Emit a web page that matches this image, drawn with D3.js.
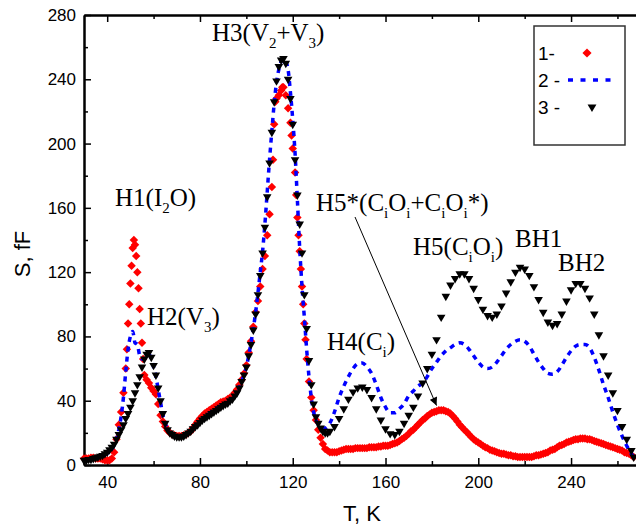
<!DOCTYPE html>
<html>
<head>
<meta charset="utf-8">
<script src="https://cdn.jsdelivr.net/npm/d3@7"></script>
<style>
body { margin: 0; background: #fff; }
</style>
</head>
<body>
<script>
//Data: [T in K, S in fF]
//Series 1 - red diamonds
var series1 = [[30,4],[31,4],[32,4],[33,4.5],[34,4.5],[35,4],[36,4],[37,4],[38,3.5],[39,3],[40,3],[41,3],[42,4],[43,8],[44,16],[45,25],[46,33],[47,45],[48,60],[48.5,72],[49,88],[49.5,100],[50,113],[50.5,124],[51,135],[51.5,140],[52,137],[52.5,130],[53,120],[53.5,110],[54,97],[54.5,88],[55,76],[55.5,66],[56,56],[57,53],[58,51],[59,48],[60,46],[61,44],[62,38],[63,31],[64,27],[65,24],[66,21.5],[67,20],[68,19],[69,18.5],[70,18],[71,18],[72,18],[73,18.5],[74,19],[75,20],[76,21],[77,23],[78,25],[79,27],[80,29],[81,30.5],[82,32],[83,33],[84,34],[85,35],[86,36],[87,37],[88,38],[89,39],[90,39.5],[91,40],[92,41],[93,42],[94,43],[95,45],[96,47],[97,50],[98,53],[99,57],[100,62],[101,70],[102,77],[103,86],[104,95],[105,102],[106,111],[107,122],[108,130],[109,143],[110,156],[111,173],[111.5,190],[112,212],[112.5,226],[113,228],[114,230],[115,233],[115.5,235],[116,235],[117,230],[118,222],[119,213],[119.5,205],[120,197],[121,182],[121.5,168],[122,154],[122.5,143],[123,133],[123.5,122],[124,111],[124.5,100],[125,88],[125.5,78],[126,66],[127,52],[128,42],[129,34],[130,28],[131,22],[132,17],[133,13],[134,10],[135,9],[136,8],[137,8],[138,8],[139,8],[140,8.5],[141,9],[142,9.5],[143,10],[144,10],[145,10],[146,10],[147,10.5],[148,10.5],[149,10.5],[150,10.5],[151,10.5],[152,10.5],[153,11],[154,11],[155,11],[156,11],[157,11.5],[158,11.5],[159,12],[160,12],[161,12],[162,12.5],[163,13],[164,13.5],[165,14],[166,15],[167,16],[168,17],[169,18],[170,19.5],[171,21],[172,22],[173,23.5],[174,25],[175,26.5],[176,28],[177,29],[178,30.5],[179,31.5],[180,32.5],[181,33],[182,33.5],[183,34],[184,34],[185,34],[186,33.5],[187,33],[188,32],[189,30.5],[190,29],[191,27],[192,25],[193,23.5],[194,22],[195,20.5],[196,19],[197,17.5],[198,16],[199,15],[200,14],[201,13],[202,12],[203,11],[204,10.5],[205,9.5],[206,9],[207,8.5],[208,8],[209,7.5],[210,7],[211,7],[212,6.5],[213,6],[214,6],[215,5.5],[216,5.5],[217,5],[218,5],[219,5],[220,5],[221,5],[222,5],[223,5],[224,5.5],[225,6],[226,6],[227,6.5],[228,7],[229,7.5],[230,8],[231,9],[232,9.5],[233,10],[234,11],[235,12],[236,12.5],[237,13],[238,14],[239,14.5],[240,15],[241,15.5],[242,16],[243,16],[244,16.5],[245,16.5],[246,16.5],[247,16],[248,16],[249,15.5],[250,15],[251,14.5],[252,14],[253,13.5],[254,13],[255,12.5],[256,12],[257,11.5],[258,11],[259,10.5],[260,10],[261,9.5],[262,9],[263,8],[264,7.5],[265,7],[266,6],[267,5]];

//Series 2 - blue dotted line
var series2 = [[30,3],[34,4],[38,6],[40,7],[42,10],[44,16],[45,22],[46,30],[47,42],[48,58],[49,72],[50,80],[51,83],[52,76],[53,75],[54,68],[55,66],[56,66],[57,68],[58,69],[59,66],[60,61],[61,55],[62,47],[63,39],[64,31],[65,26],[66,22],[68,19],[70,17.5],[72,17.5],[74,19],[76,21],[78,24],[80,27],[84,32],[88,36],[92,39],[94,41],[96,45],[98,52],[100,61],[102,76],[104,95],[106,120],[107,133],[108,150],[109,170],[110,190],[111,208],[112,225],[113,238],[114,246],[115,251],[116,253],[117,251],[118,246],[119,232],[120,215],[121,194],[122,165],[123,135],[124,111],[125,92],[126,72],[127,55],[128,42],[129,33],[130,28],[132,24],[134,23],[136,26],[138,33],[140,42],[142,49],[144,55],[146,60],[148,63],[150,63.5],[152,61],[154,57],[156,50],[158,42],[160,36],[162,32.5],[164,32.5],[166,35],[168,38],[170,43],[172,46],[174,49],[176,51],[178,55],[180,60],[182,64],[184,68],[186,71],[188,73],[190,75],[192,76],[194,75],[196,72],[198,68],[200,64],[202,61],[204,60],[206,61],[208,64],[210,68],[212,72],[214,75],[216,77],[218,78],[220,77],[222,74],[224,69],[226,64],[228,60],[230,57],[232,56.5],[234,58],[236,62],[238,67],[240,71],[242,74],[244,75],[246,75],[248,73],[250,67],[252,59],[254,50],[256,42],[258,33],[260,25],[262,18],[264,12],[266,7],[267,5]];

//Series 3 - black triangles
var series3 = [[30,3],[31,3],[32,3.5],[33,3.5],[34,4],[35,4.5],[36,5],[37,5.5],[38,6],[39,7],[40,8],[41,9.5],[42,11],[43,13],[44,16],[45,19],[46,22],[47,25],[48,29],[49,32],[50,36],[51,40],[52,45],[53,50],[54,55],[55,61],[56,66],[57,69],[58,70],[59,67],[60,62],[61,56],[62,48],[63,40],[64,32],[65,26],[66,22],[67,20],[68,19],[69,18],[70,17.5],[71,17.5],[72,17.5],[73,18],[74,19],[75,20],[76,21],[77,22.5],[78,24],[79,25],[80,26.5],[81,28],[82,29],[83,30],[84,31],[85,32],[86,33],[87,34],[88,35],[89,36],[90,37],[91,38],[92,38.5],[93,40],[94,41],[95,43],[96,45],[97,48],[98,52],[99,56],[100,61],[101,68],[102,75],[103,84],[104,94],[105,106],[106,118],[107,132],[108,148],[109,167],[110,188],[111,207],[112,226],[113,239],[114,248],[115,252],[116,253],[117,250],[118,240],[119,228],[120,212],[121,190],[122,168],[123,150],[124,132],[125,106],[126,85],[127,65],[128,50],[129,38],[130,30],[131,26],[132,23],[133,21],[134,20],[135,20],[136,21],[138,24],[140,29],[142,35],[144,41],[146,45.5],[148,48],[150,48.5],[152,47],[154,42],[156,35],[158,28],[160,22.5],[162,19.5],[164,19],[166,21],[168,26],[170,31],[172,36],[174,43],[176,51],[178,60],[180,69],[182,78],[184,92],[186,105],[188,112],[190,116],[192,119],[194,119],[196,116],[198,110],[200,103],[202,97],[204,93],[206,92],[208,94],[210,99],[212,107],[214,114],[216,120],[218,123],[220,122],[222,118],[224,111],[226,103],[228,95],[230,89],[232,87],[234,88],[236,94],[238,102],[240,109],[242,113],[244,113],[246,110],[248,104],[250,94],[252,81],[254,68],[256,56],[258,45],[260,34],[262,24],[264,16],[266,9],[267,5]];

//Tick values
var xMajor = [40, 80, 120, 160, 200, 240];
var xMinor = [60, 100, 140, 180, 220, 260];
var yMajor = [0, 40, 80, 120, 160, 200, 240, 280];
var yMinor = [20, 60, 100, 140, 180, 220, 260];

var legendLabels = ['1-', '2 -', '3 -'];

//Peak labels: parts of [text, subscript?]
var peakLabels = [
  {x: 115, y: 206, parts: [['H1(I', 0], ['2', 1], ['O)', 0]]},
  {x: 147, y: 325, parts: [['H2(V', 0], ['3', 1], [')', 0]]},
  {x: 212, y: 41, parts: [['H3(V', 0], ['2', 1], ['+V', 0], ['3', 1], [')', 0]]},
  {x: 327, y: 350, parts: [['H4(C', 0], ['i', 1], [')', 0]]},
  {x: 316, y: 211, parts: [['H5*(C', 0], ['i', 1], ['O', 0], ['i', 1], ['+C', 0], ['i', 1], ['O', 0], ['i', 1], ['*)', 0]]},
  {x: 413, y: 255, parts: [['H5(C', 0], ['i', 1], ['O', 0], ['i', 1], [')', 0]]},
  {x: 515, y: 247, parts: [['BH1', 0]]},
  {x: 558, y: 271, parts: [['BH2', 0]]}
];

var W = 636, H = 529;
var sans = 'Arial, "Liberation Sans", sans-serif';
var serif = '"Times New Roman", "Liberation Serif", serif';

var x = d3.scaleLinear().domain([30, 268]).range([84, 636]);
var y = d3.scaleLinear().domain([0, 280]).range([465, 15]);

var svg = d3.select('body')
  .append('svg')
  .attr('width', W)
  .attr('height', H);

//Axes, ticks point inside
function styleAxis(g) {
  g.select('.domain').attr('stroke', '#000').attr('stroke-width', 2);
  g.selectAll('.tick line').attr('stroke', '#000').attr('stroke-width', 1.5);
  g.selectAll('.tick text')
    .attr('font-family', sans)
    .attr('font-size', '17px')
    .attr('fill', '#000');
}

svg.append('g')
  .attr('transform', 'translate(0,465)')
  .call(d3.axisBottom(x).tickValues(xMinor).tickSizeInner(-4).tickSizeOuter(0).tickFormat(''))
  .call(styleAxis);
svg.append('g')
  .attr('transform', 'translate(0,465)')
  .call(d3.axisBottom(x).tickValues(xMajor).tickSizeInner(-7).tickSizeOuter(0).tickPadding(11))
  .call(styleAxis);

svg.append('g')
  .attr('transform', 'translate(0,15)')
  .call(d3.axisTop(x).tickValues(xMinor).tickSizeInner(-4).tickSizeOuter(0).tickFormat(''))
  .call(styleAxis);
svg.append('g')
  .attr('transform', 'translate(0,15)')
  .call(d3.axisTop(x).tickValues(xMajor).tickSizeInner(-7).tickSizeOuter(0).tickFormat(''))
  .call(styleAxis);

svg.append('g')
  .attr('transform', 'translate(84,0)')
  .call(d3.axisLeft(y).tickValues(yMinor).tickSizeInner(-4).tickSizeOuter(0).tickFormat(''))
  .call(styleAxis);
svg.append('g')
  .attr('transform', 'translate(84,0)')
  .call(d3.axisLeft(y).tickValues(yMajor).tickSizeInner(-7).tickSizeOuter(0).tickPadding(8))
  .call(styleAxis);

//Axis titles
svg.append('text')
  .attr('transform', 'translate(30,254) rotate(-90)')
  .attr('text-anchor', 'middle')
  .attr('font-family', sans)
  .attr('font-size', '22px')
  .text('S, fF');

svg.append('text')
  .attr('x', 362)
  .attr('y', 521)
  .attr('text-anchor', 'middle')
  .attr('font-family', sans)
  .attr('font-size', '22px')
  .text('T, K');

//Symbols
var diamond = d3.symbol().type(d3.symbolSquare).size(36);
var triangle = d3.symbol().type(d3.symbolTriangle).size(32);

var plot = svg.append('g');

//Series 1
plot.selectAll('.s1')
  .data(series1)
  .enter()
  .append('path')
  .attr('class', 's1')
  .attr('d', diamond)
  .attr('transform', function (d) {
    return 'translate(' + x(d[0]) + ',' + y(d[1]) + ') rotate(45)';
  })
  .attr('fill', '#ff0000');

//Series 2
var line = d3.line()
  .x(function (d) { return x(d[0]); })
  .y(function (d) { return y(d[1]); })
  .curve(d3.curveMonotoneX);

plot.append('path')
  .datum(series2)
  .attr('d', line)
  .attr('fill', 'none')
  .attr('stroke', '#0000ff')
  .attr('stroke-width', 3.5)
  .attr('stroke-dasharray', '5,5');

//Series 3
plot.selectAll('.s3')
  .data(series3)
  .enter()
  .append('path')
  .attr('class', 's3')
  .attr('d', triangle)
  .attr('transform', function (d) {
    return 'translate(' + x(d[0]) + ',' + y(d[1]) + ') rotate(180)';
  })
  .attr('fill', '#000');

//Peak labels
peakLabels.forEach(function (lab) {
  var t = svg.append('text')
    .attr('x', lab.x)
    .attr('y', lab.y)
    .attr('font-family', serif)
    .attr('font-size', '25px')
    .attr('fill', '#000');
  var shifted = false;
  lab.parts.forEach(function (p) {
    var ts = t.append('tspan').text(p[0]);
    if (p[1]) {
      ts.attr('font-size', '15px').attr('dy', shifted ? 0 : 7);
      shifted = true;
    } else {
      if (shifted) ts.attr('dy', -7);
      shifted = false;
    }
  });
});

//Arrow to the H5* peak
svg.append('defs')
  .append('marker')
  .attr('id', 'arrow')
  .attr('viewBox', '0 0 10 10')
  .attr('refX', 10)
  .attr('refY', 5)
  .attr('markerWidth', 10)
  .attr('markerHeight', 8)
  .attr('markerUnits', 'userSpaceOnUse')
  .attr('orient', 'auto')
  .append('path')
  .attr('d', 'M0,0 L10,5 L0,10 Z')
  .attr('fill', '#000');

svg.append('line')
  .attr('x1', 355)
  .attr('y1', 217)
  .attr('x2', x(182))
  .attr('y2', y(37))
  .attr('stroke', '#000')
  .attr('stroke-width', 1)
  .attr('marker-end', 'url(#arrow)');

//Legend
var legend = svg.append('g');
legend.append('rect')
  .attr('x', 534)
  .attr('y', 26)
  .attr('width', 91)
  .attr('height', 119)
  .attr('fill', '#fff')
  .attr('stroke', '#333')
  .attr('stroke-width', 1.5);

legend.selectAll('text')
  .data(legendLabels)
  .enter()
  .append('text')
  .attr('x', 538)
  .attr('y', function (d, i) { return 60 + i * 27; })
  .attr('font-family', sans)
  .attr('font-size', '19px')
  .text(function (d) { return d; });

legend.append('path')
  .attr('d', d3.symbol().type(d3.symbolSquare).size(42))
  .attr('transform', 'translate(587,53) rotate(45)')
  .attr('fill', '#ff0000');

legend.append('line')
  .attr('x1', 568)
  .attr('x2', 613)
  .attr('y1', 80)
  .attr('y2', 80)
  .attr('stroke', '#0000ff')
  .attr('stroke-width', 3.5)
  .attr('stroke-dasharray', '5,7.5');

legend.append('path')
  .attr('d', d3.symbol().type(d3.symbolTriangle).size(34))
  .attr('transform', 'translate(592,107) rotate(180)')
  .attr('fill', '#000');
</script>
</body>
</html>
